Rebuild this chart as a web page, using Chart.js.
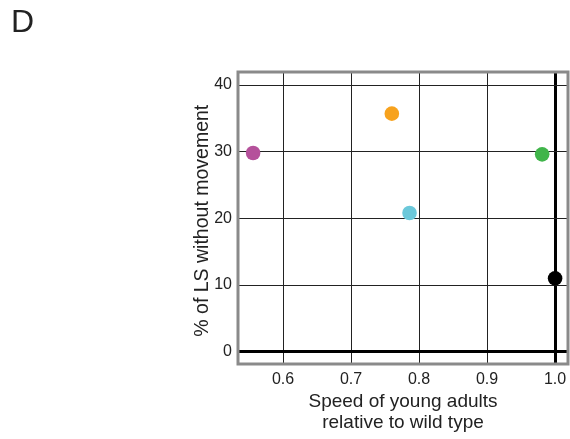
<!DOCTYPE html>
<html>
<head>
<meta charset="utf-8">
<script src="https://cdn.jsdelivr.net/npm/chart.js@4/dist/chart.umd.min.js"></script>
<style>
  html, body { margin: 0; padding: 0; background: #fff; }
  #wrap { position: relative; width: 570px; height: 439px; }
  #panel { position: absolute; left: 11px; top: 5px; font: 32px/32px "Liberation Sans", Arial, sans-serif; color: #222; }
  canvas { position: absolute; left: 0; top: 0; }
</style>
</head>
<body>
<div id="wrap">
  <canvas id="c" width="570" height="439"></canvas>
  <div id="panel">D</div>
</div>
<script>
// Data
const speedRelativeToWT = [0.556, 0.760, 0.786, 0.981, 1.0];
const pctLSWithoutMovement = [29.8, 35.7, 20.8, 29.6, 11.0];
const pointColors = ['#b5519b', '#f7a21d', '#6bc8da', '#40b54a', '#000000'];
const xTicks = [0.6, 0.7, 0.8, 0.9, 1.0];
const yTicks = [0, 10, 20, 30, 40];
const xTitle = ['Speed of young adults', 'relative to wild type'];
const yTitle = '% of LS without movement';

const FONT = "'Liberation Sans', Arial, sans-serif";

const framePlugin = {
  id: 'frame',
  afterDatasetsDraw(chart) {
    const { ctx, chartArea: a } = chart;
    ctx.save();
    ctx.strokeStyle = '#8a8a8a';
    ctx.lineWidth = 3;
    ctx.strokeRect(a.left, a.top, a.right - a.left, a.bottom - a.top);
    ctx.restore();
  }
};

new Chart(document.getElementById('c'), {
  type: 'scatter',
  data: {
    datasets: [{
      data: speedRelativeToWT.map((x, i) => ({ x, y: pctLSWithoutMovement[i] })),
      backgroundColor: pointColors,
      borderColor: pointColors,
      borderWidth: 0,
      pointRadius: 7.3,
      pointHoverRadius: 7.3
    }]
  },
  options: {
    responsive: false,
    animation: false,
    events: [],
    layout: { autoPadding: false, padding: { left: 0, top: 72, right: 2, bottom: 0 } },
    plugins: { legend: { display: false }, tooltip: { enabled: false } },
    scales: {
      x: {
        type: 'linear',
        min: 0.5338,
        max: 1.019,
        afterBuildTicks(scale) { scale.ticks = xTicks.map(v => ({ value: v })); },
        afterFit(scale) { scale.height = 75; scale.paddingLeft = 0; scale.paddingRight = 0; },
        border: { display: false },
        grid: {
          drawTicks: false,
          color: ctx => ctx.tick && ctx.tick.value === 1 ? '#000' : '#222',
          lineWidth: ctx => ctx.tick && ctx.tick.value === 1 ? 3 : 1
        },
        ticks: {
          padding: 6,
          color: '#222',
          font: { family: FONT, size: 16 },
          callback: v => v.toFixed(1)
        },
        title: {
          display: true,
          text: xTitle,
          color: '#222',
          font: { family: FONT, size: 19, lineHeight: 1.13 },
          padding: { top: 0, bottom: 5 }
        }
      },
      y: {
        type: 'linear',
        min: -1.85,
        max: 41.95,
        afterBuildTicks(scale) { scale.ticks = yTicks.map(v => ({ value: v })); },
        afterFit(scale) { scale.width = 238; scale.paddingTop = 0; scale.paddingBottom = 0; },
        border: { display: false },
        grid: {
          drawTicks: false,
          color: ctx => ctx.tick && ctx.tick.value === 0 ? '#000' : '#222',
          lineWidth: ctx => ctx.tick && ctx.tick.value === 0 ? 3 : 1
        },
        ticks: {
          padding: 6,
          color: '#222',
          font: { family: FONT, size: 16 }
        },
        title: {
          display: true,
          text: yTitle + ' ',
          color: '#222',
          font: { family: FONT, size: 19.5, lineHeight: 1.13 },
          padding: { top: 192, bottom: 0 }
        }
      }
    }
  },
  plugins: [framePlugin]
});
</script>
</body>
</html>
